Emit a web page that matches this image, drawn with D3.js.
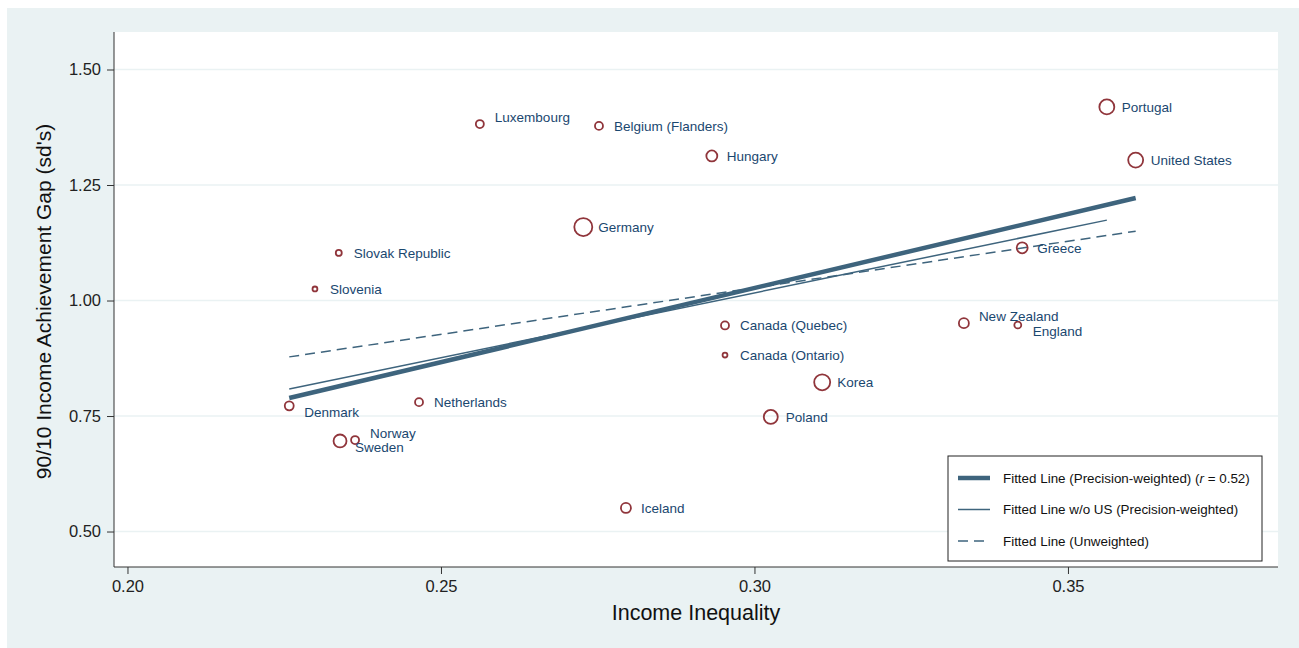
<!DOCTYPE html>
<html>
<head>
<meta charset="utf-8">
<script src="https://cdn.jsdelivr.net/npm/d3@7"></script>
<style>
  html, body { margin: 0; padding: 0; background: #ffffff; }
  svg { display: block; font-family: "Liberation Sans", Arial, Helvetica, sans-serif; }
</style>
</head>
<body>
<svg id="chart" width="1299" height="648"></svg>
<script>
// Countries: income inequality vs. 90/10 income achievement gap
const countries = ["Luxembourg", "Belgium (Flanders)", "Hungary", "Portugal", "United States",
  "Germany", "Slovak Republic", "Slovenia", "Greece", "Canada (Quebec)", "Canada (Ontario)",
  "New Zealand", "England", "Korea", "Poland", "Denmark", "Netherlands", "Norway", "Sweden", "Iceland"];
const inequality = [0.2562, 0.2752, 0.2932, 0.3562, 0.3608,
  0.2727, 0.2337, 0.2299, 0.3427, 0.2953, 0.2953,
  0.3334, 0.3420, 0.3108, 0.3026, 0.2258, 0.2465, 0.2363, 0.2339, 0.2795];
const gap = [1.382, 1.378, 1.313, 1.419, 1.304,
  1.159, 1.103, 1.025, 1.114, 0.946, 0.882,
  0.951, 0.947, 0.823, 0.748, 0.772, 0.780, 0.698, 0.696, 0.551];
// precision weights (marker area)
const weights = [16, 16, 30, 56, 56,
  81, 9, 6, 30, 16, 6,
  25, 12, 64, 49, 20, 16, 16, 42, 25];
// label clock positions
const labelPos = [2, 3, 3, 3, 3,
  3, 3, 3, 3, 3, 3,
  2, 4, 3, 3, 4, 3, 2, 4, 3];

// fitted lines: [x, y] endpoints
const fitWeighted = [[0.2258, 0.789], [0.3608, 1.222]];
const fitWithoutUS = [[0.2258, 0.8085], [0.3562, 1.174]];
const fitUnweighted = [[0.2258, 0.878], [0.3608, 1.150]];

const xTicks = [0.20, 0.25, 0.30, 0.35];
const yTicks = [0.50, 0.75, 1.00, 1.25, 1.50];
const legendLabels = ["Fitted Line (Precision-weighted) (", "Fitted Line w/o US (Precision-weighted)", "Fitted Line (Unweighted)"];

const svg = d3.select("#chart");
const W = 1299, H = 648;
const plot = { left: 114, right: 1278, top: 32, bottom: 567 };

const bg = "#eaf2f3";
const navy = "#1a476f";
const maroon = "#90353b";
const lineCol = "#3e647d";

// graph region
svg.append("rect").attr("x", 7).attr("y", 8).attr("width", W - 7).attr("height", H - 8).attr("fill", bg);
svg.append("rect").attr("x", plot.left).attr("y", plot.top)
  .attr("width", plot.right - plot.left).attr("height", plot.bottom - plot.top).attr("fill", "#ffffff");

const x = d3.scaleLinear().domain([0.19785, 0.3835]).range([plot.left, plot.right]);
const y = d3.scaleLinear().domain([0.4232, 1.5812]).range([plot.bottom, plot.top]);
const r = d3.scaleSqrt().domain([0, 81]).range([0, 9]);

// gridlines
svg.append("g").selectAll("line").data(yTicks).join("line")
  .attr("x1", plot.left).attr("x2", plot.right)
  .attr("y1", d => y(d)).attr("y2", d => y(d))
  .attr("stroke", bg).attr("stroke-width", 1.5);

// axes
const yAxis = d3.axisLeft(y).tickValues(yTicks).tickFormat(d3.format(".2f")).tickSize(7).tickPadding(6);
const xAxis = d3.axisBottom(x).tickValues(xTicks).tickFormat(d3.format(".2f")).tickSize(7).tickPadding(6);

const gy = svg.append("g").attr("transform", `translate(${plot.left},0)`).call(yAxis);
gy.select(".domain").attr("d", `M0,${plot.top}V${plot.bottom}`).attr("stroke", "#333");
const gx = svg.append("g").attr("transform", `translate(0,${plot.bottom})`).call(xAxis);
gx.select(".domain").attr("d", `M${plot.left},0H${plot.right}`).attr("stroke", "#333");
[gx, gy].forEach(g => {
  g.selectAll(".tick line").attr("stroke", "#333");
  g.selectAll(".tick text").attr("font-size", 16.5).attr("fill", "#222")
    .attr("font-family", "'Liberation Sans', Arial, sans-serif");
});

// axis titles
svg.append("text").attr("x", (plot.left + plot.right) / 2) .attr("y", 620)
  .attr("text-anchor", "middle").attr("font-size", 21.5).attr("fill", "#111").text("Income Inequality");
svg.append("text").attr("transform", `translate(51,${(plot.top + plot.bottom) / 2 + 2}) rotate(-90)`)
  .attr("text-anchor", "middle").attr("font-size", 21).attr("fill", "#111")
  .text("90/10 Income Achievement Gap (sd's)");

// fitted lines
const line = d3.line().x(d => x(d[0])).y(d => y(d[1]));
svg.append("path").datum(fitUnweighted).attr("d", line).attr("fill", "none")
  .attr("stroke", lineCol).attr("stroke-width", 1.5).attr("stroke-dasharray", "10,6");
svg.append("path").datum(fitWithoutUS).attr("d", line).attr("fill", "none")
  .attr("stroke", lineCol).attr("stroke-width", 1.5);
svg.append("path").datum(fitWeighted).attr("d", line).attr("fill", "none")
  .attr("stroke", lineCol).attr("stroke-width", 4.5);

// markers
const pts = countries.map((c, i) => ({ name: c, x: inequality[i], y: gap[i], w: weights[i], pos: labelPos[i] }));
svg.append("g").selectAll("circle").data(pts).join("circle")
  .attr("cx", d => x(d.x)).attr("cy", d => y(d.y)).attr("r", d => r(d.w))
  .attr("fill", "none").attr("stroke", maroon).attr("stroke-width", 1.8);

// marker labels
const offsets = { 2: [15, -7], 3: [15, 0], 4: [15, 6.5] };
svg.append("g").selectAll("text").data(pts).join("text")
  .attr("x", d => x(d.x) + offsets[d.pos][0])
  .attr("y", d => y(d.y) + offsets[d.pos][1])
  .attr("dy", "0.35em").attr("font-size", 13.5).attr("fill", navy)
  .text(d => d.name);

// legend
const lg = svg.append("g");
const lx = 948, ly = 456, lw = 314, lh = 105;
lg.append("rect").attr("x", lx).attr("y", ly).attr("width", lw).attr("height", lh)
  .attr("fill", "#ffffff").attr("stroke", "#222").attr("stroke-width", 1);
const rows = [
  { w: 4.5, dash: null },
  { w: 1.5, dash: null },
  { w: 1.5, dash: "10,6" }
];
rows.forEach((row, i) => {
  const yy = ly + 22 + i * 31.5;
  lg.append("line").attr("x1", lx + 10).attr("x2", lx + 42).attr("y1", yy).attr("y2", yy)
    .attr("stroke", lineCol).attr("stroke-width", row.w)
    .attr("stroke-dasharray", row.dash);
  const t = lg.append("text").attr("x", lx + 55).attr("y", yy).attr("dy", "0.35em")
    .attr("font-size", 13.4).attr("fill", "#111");
  t.append("tspan").text(legendLabels[i]);
  if (i === 0) {
    t.append("tspan").attr("font-style", "italic").text("r");
    t.append("tspan").text(" = 0.52)");
  }
});
</script>
</body>
</html>
